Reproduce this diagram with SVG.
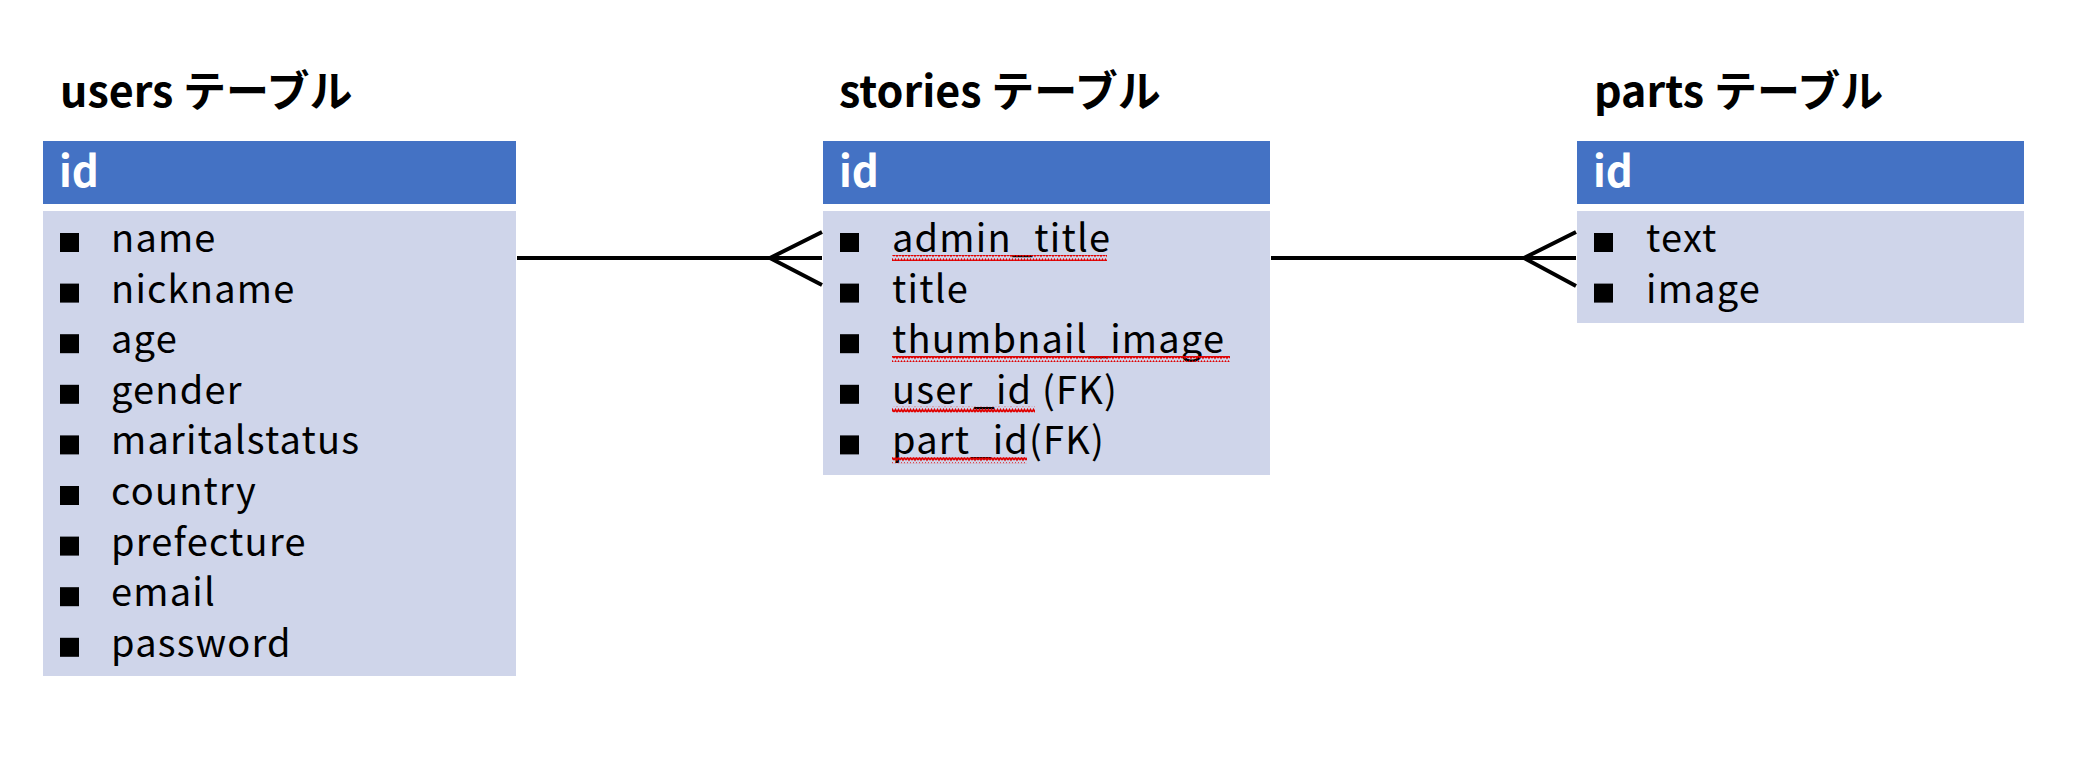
<svg xmlns="http://www.w3.org/2000/svg" width="2092" height="766" viewBox="0 0 2092 766">
<defs>
<style>
.title{font-family:"Noto Sans CJK JP","Noto Sans",sans-serif;font-weight:bold;font-size:43px;fill:#000}
.hdr{fill:#4472C4}
.body{fill:#CFD5EA}
.pk{font-family:"Noto Sans CJK JP","Noto Sans",sans-serif;font-weight:bold;font-size:42px;fill:#fff}
.row{font-family:"Noto Sans CJK JP","Noto Sans",sans-serif;font-size:38px;letter-spacing:1.2px;fill:#000}
.bul{fill:#000}
.conn{stroke:#000;stroke-width:4;fill:none}
</style>
<pattern id="wv" x="0" y="0" width="6" height="6" patternUnits="userSpaceOnUse">
<path d="M0,4 L1.5,1.5 L3,4 L4.5,1.5 L6,4" stroke="#E00000" stroke-width="1.6" fill="none"/>
</pattern>
</defs>
<rect width="2092" height="766" fill="#fff"/>

<g id="users">
<text class="title" x="60" y="107">users テーブル</text>
<rect class="hdr" x="43" y="141" width="473" height="63"/>
<text class="pk" x="59" y="187">id</text>
<rect class="body" x="43" y="211" width="473" height="465"/>
<g class="bul">
<rect x="60" y="233" width="19" height="19"/>
<rect x="60" y="283.6" width="19" height="19"/>
<rect x="60" y="334.2" width="19" height="19"/>
<rect x="60" y="384.8" width="19" height="19"/>
<rect x="60" y="435.4" width="19" height="19"/>
<rect x="60" y="486" width="19" height="19"/>
<rect x="60" y="536.6" width="19" height="19"/>
<rect x="60" y="587.2" width="19" height="19"/>
<rect x="60" y="637.8" width="19" height="19"/>
</g>
<text class="row" x="111" y="252">name</text>
<text class="row" x="111" y="302.6">nickname</text>
<text class="row" x="111" y="353.2">age</text>
<text class="row" x="111" y="403.8">gender</text>
<text class="row" x="111" y="454.4">maritalstatus</text>
<text class="row" x="111" y="505">country</text>
<text class="row" x="111" y="555.6">prefecture</text>
<text class="row" x="111" y="606.2">email</text>
<text class="row" x="111" y="656.8">password</text>
</g>

<g id="stories">
<text class="title" x="839" y="107">stories テーブル</text>
<rect class="hdr" x="823" y="141" width="447" height="63"/>
<text class="pk" x="839" y="187">id</text>
<rect class="body" x="823" y="211" width="447" height="264"/>
<g class="bul">
<rect x="840" y="233" width="19" height="19"/>
<rect x="840" y="283.6" width="19" height="19"/>
<rect x="840" y="334.2" width="19" height="19"/>
<rect x="840" y="384.8" width="19" height="19"/>
<rect x="840" y="435.4" width="19" height="19"/>
</g>
<text class="row" x="892" y="252">admin_title</text>
<text class="row" x="892" y="302.6">title</text>
<text class="row" x="892" y="353.2">thumbnail_image</text>
<text class="row" x="892" y="403.8">user_id (FK)</text>
<text class="row" x="892" y="454.4">part_id(FK)</text>
<rect x="892" y="255" width="215" height="6" fill="url(#wv)"/>
<rect x="892" y="356" width="338" height="6" fill="url(#wv)"/>
<rect x="892" y="406.6" width="143" height="6" fill="url(#wv)"/>
<rect x="892" y="457.2" width="135" height="6" fill="url(#wv)"/>
</g>

<g id="parts">
<text class="title" x="1594" y="107">parts テーブル</text>
<rect class="hdr" x="1577" y="141" width="447" height="63"/>
<text class="pk" x="1593" y="187">id</text>
<rect class="body" x="1577" y="211" width="447" height="112"/>
<g class="bul">
<rect x="1594" y="233" width="19" height="19"/>
<rect x="1594" y="283.6" width="19" height="19"/>
</g>
<text class="row" x="1646" y="252">text</text>
<text class="row" x="1646" y="302.6">image</text>
</g>

<g id="connectors">
<path class="conn" d="M517,258 L822,258 M822,232 L770,258 L822,285"/>
<path class="conn" d="M1271,258 L1576,258 M1576,232 L1524,258 L1576,286"/>
</g>
</svg>
